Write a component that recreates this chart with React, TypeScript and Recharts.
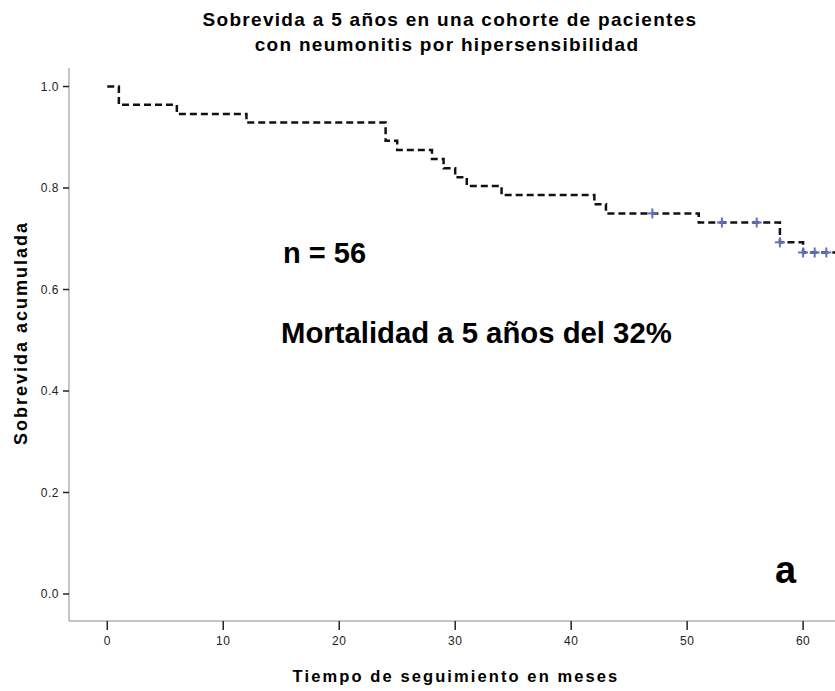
import { ComposedChart, Line, Scatter, XAxis, YAxis } from 'recharts'

// Kaplan-Meier steps: month of each drop and survival after it
const months = [0, 1, 6, 12, 24, 25, 28, 29, 30, 31, 34, 42, 43, 51, 58, 60, 62.75]
const survival = [1.0, 0.964, 0.946, 0.929, 0.893, 0.875, 0.857, 0.839, 0.821, 0.804, 0.786, 0.768, 0.75, 0.732, 0.693, 0.673, 0.673]

// censored patients (+ marks)
const censoredMonths = [47, 53, 56, 58, 60, 61, 62]
const censoredSurvival = [0.75, 0.732, 0.732, 0.693, 0.673, 0.673, 0.673]

const xTicks = [0, 10, 20, 30, 40, 50, 60]
const yTicks = [0, 0.2, 0.4, 0.6, 0.8, 1.0]

const FONT = '"Liberation Sans", Arial, sans-serif'

const curve = months.map((t, i) => ({ t, s: survival[i] }))
const censored = censoredMonths.map((t, i) => ({ t, s: censoredSurvival[i] }))

function PlusMark(props: any) {
  const { cx, cy } = props
  if (cx == null || cy == null) return null
  return (
    <g stroke="#5f72c2" strokeWidth={2}>
      <line x1={cx - 5} y1={cy} x2={cx + 5} y2={cy} />
      <line x1={cx} y1={cy - 5} x2={cx} y2={cy + 5} />
    </g>
  )
}

function YTick(props: any) {
  const { x, y, payload } = props
  return (
    <text x={x} y={y} dy={4} textAnchor="end" fontFamily={FONT} fontSize={12} fill="#222" style={{ letterSpacing: 0.5 }}>
      {payload.value.toFixed(1)}
    </text>
  )
}

function XTick(props: any) {
  const { x, y, payload } = props
  return (
    <text x={x} y={y} dy={13} textAnchor="middle" fontFamily={FONT} fontSize={12} fill="#222" style={{ letterSpacing: 0.5 }}>
      {payload.value}
    </text>
  )
}

export default function App() {
  return (
    <div style={{ position: 'absolute', left: 0, top: 0, width: 835, height: 691, background: '#fff' }}>
      <ComposedChart width={835} height={691} margin={{ top: 68, right: 0, bottom: 30, left: 9 }}>
        <XAxis
          dataKey="t"
          type="number"
          domain={[-3.3, 62.75]}
          ticks={xTicks}
          allowDataOverflow
          height={40}
          tickSize={9}
          tickMargin={2}
          axisLine={{ stroke: '#8c8c8c' }}
          tickLine={{ stroke: '#222', strokeWidth: 1.5 }}
          tick={<XTick />}
        />
        <YAxis
          dataKey="s"
          type="number"
          domain={[-0.0532, 1.0365]}
          ticks={yTicks}
          allowDataOverflow
          width={60}
          tickSize={6}
          tickMargin={4}
          axisLine={{ stroke: '#8c8c8c' }}
          tickLine={{ stroke: '#222', strokeWidth: 1.5 }}
          tick={<YTick />}
        />
        <Line
          data={curve}
          dataKey="s"
          type="stepAfter"
          stroke="#111"
          strokeWidth={2.5}
          strokeDasharray="7 4"
          dot={false}
          activeDot={false}
          isAnimationActive={false}
        />
        <Scatter data={censored} dataKey="s" shape={<PlusMark />} isAnimationActive={false} />
      </ComposedChart>
      <svg width={835} height={691} style={{ position: 'absolute', left: 0, top: 0, pointerEvents: 'none' }}>
        <g fontFamily={FONT} fontWeight="bold" fill="#000">
          <text x={450} y={26} textAnchor="middle" fontSize={19} style={{ letterSpacing: 1.3 }}>
            Sobrevida a 5 años en una cohorte de pacientes
          </text>
          <text x={447} y={51} textAnchor="middle" fontSize={19} style={{ letterSpacing: 1.3 }}>
            con neumonitis por hipersensibilidad
          </text>
          <text transform="translate(27,333) rotate(-90)" textAnchor="middle" fontSize={18} style={{ letterSpacing: 2 }}>
            Sobrevida acumulada
          </text>
          <text x={456} y={682} textAnchor="middle" fontSize={16.5} style={{ letterSpacing: 2.1 }}>
            Tiempo de seguimiento en meses
          </text>
          <text x={283} y={263} fontSize={29}>n = 56</text>
          <text x={281} y={343} fontSize={29.3}>Mortalidad a 5 años del 32%</text>
          <text x={775} y={583} fontSize={38}>a</text>
        </g>
      </svg>
    </div>
  )
}
